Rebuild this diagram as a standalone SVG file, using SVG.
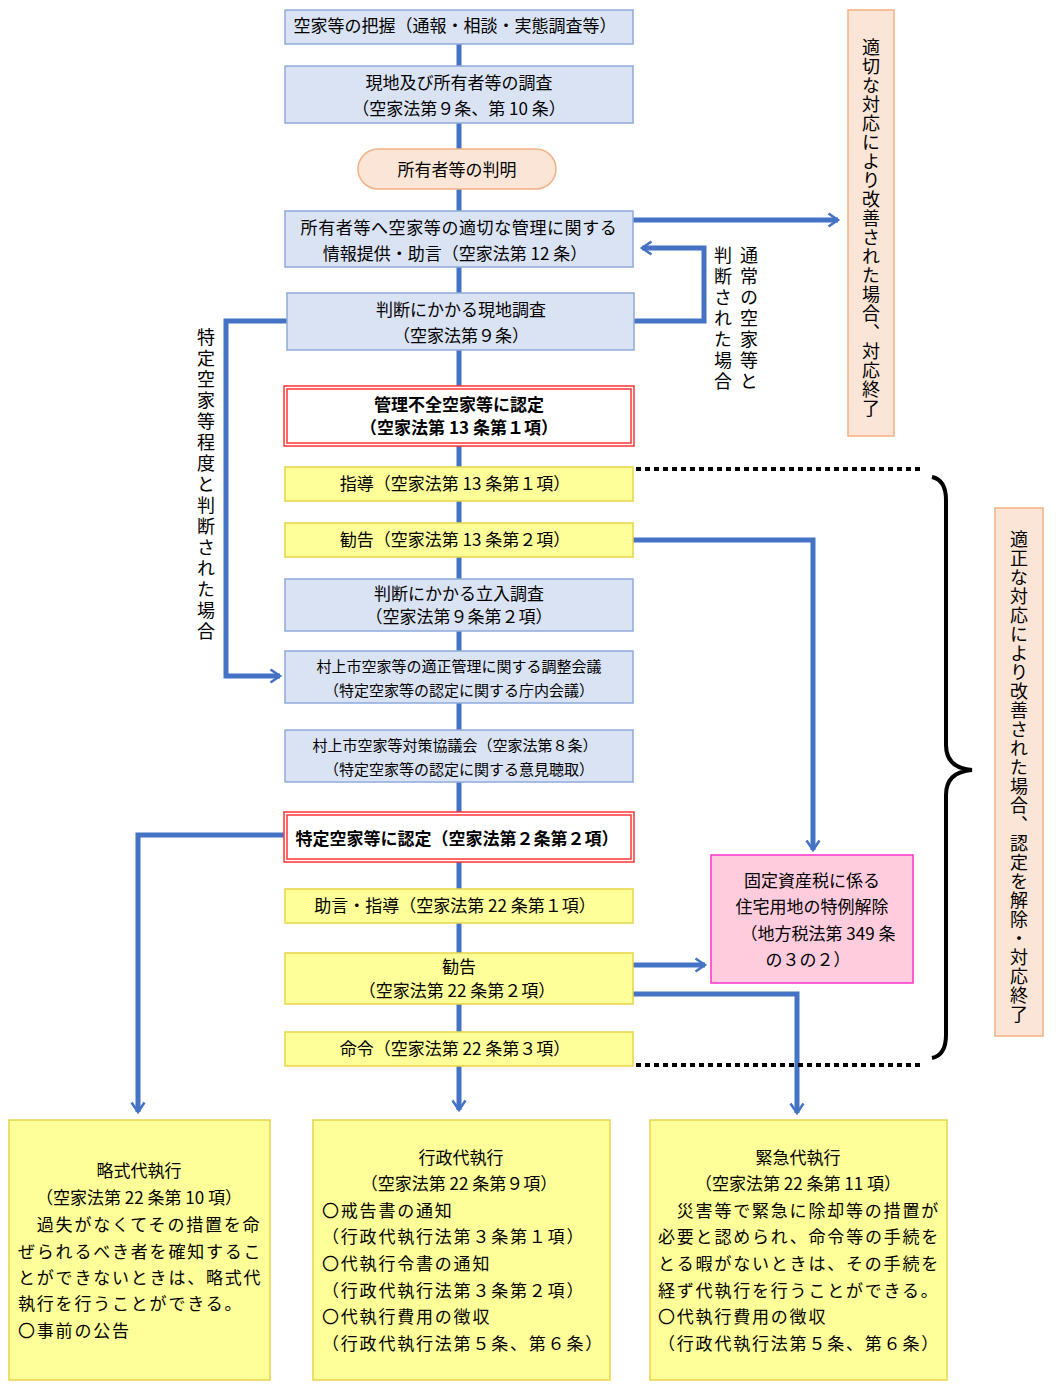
<svg xmlns="http://www.w3.org/2000/svg" width="1060" height="1392" viewBox="0 0 1060 1392">
<style>
text{font-family:"Noto Sans CJK JP","Noto Sans CJK SC",sans-serif;font-size:17px;fill:#000;text-anchor:middle}
.b{fill:#dae3f3;stroke:#8eaadb;stroke-width:1.5}
.y{fill:#ffff99;stroke:#e8d44a;stroke-width:1.5}
.r{fill:#fff;stroke:#ff3333;stroke-width:1.5}
.o{fill:#fbe5d6;stroke:#f4b183;stroke-width:1.5}
.c{fill:none;stroke:#4472c4;stroke-width:5}
.bold{font-weight:bold}
.v{writing-mode:vertical-rl;text-anchor:start;font-size:18px;letter-spacing:1px}
.l{text-anchor:start;letter-spacing:1.8px}
</style>
<defs>
<marker id="a" viewBox="0 0 10 10" refX="9" refY="5" markerWidth="5" markerHeight="5" orient="auto" markerUnits="userSpaceOnUse" overflow="visible">
<polyline points="-10,-8 9,5 -10,18" fill="none" stroke="#4472c4" stroke-width="5"/>
</marker>
</defs>
<g id="connectors">
<line class="c" x1="459" y1="44" x2="459" y2="1066"/>
<path class="c" d="M459 1066 V1110" marker-end="url(#a)"/>
<path class="c" d="M633 220 H838" marker-end="url(#a)"/>
<path class="c" d="M634 321 H704 V248 H642" marker-end="url(#a)"/>
<path class="c" d="M287 321 H226 V676 H280" marker-end="url(#a)"/>
<path class="c" d="M633 540 H813 V850" marker-end="url(#a)"/>
<path class="c" d="M633 965 H705" marker-end="url(#a)"/>
<path class="c" d="M633 994 H797 V1113" marker-end="url(#a)"/>
<path class="c" d="M285 835 H138 V1112" marker-end="url(#a)"/>
<line x1="636" y1="469" x2="920" y2="469" stroke="#000" stroke-width="4" stroke-dasharray="5,4"/>
<line x1="636" y1="1065" x2="920" y2="1065" stroke="#000" stroke-width="4" stroke-dasharray="5,4"/>
<path d="M932 477 Q946 480 946 500 V745 Q946 768 972 770 Q946 772 946 795 V1035 Q946 1055 932 1058" fill="none" stroke="#000" stroke-width="4"/>
</g>
<g id="n1"><rect class="b" x="285" y="10" width="348" height="34"/><text x="455" y="32">空家等の把握（通報・相談・実態調査等）</text></g>
<g id="n2"><rect class="b" x="285" y="66" width="348" height="57"/><text x="459" y="89">現地及び所有者等の調査</text><text x="459" y="115">（空家法第９条、第 10 条）</text></g>
<g id="n3"><rect class="o" x="358" y="149" width="198" height="40" rx="20" stroke-width="3"/><text x="457" y="176">所有者等の判明</text></g>
<g id="n4"><rect class="b" x="285" y="211" width="348" height="56"/><text x="459" y="234" style="letter-spacing:0.6px">所有者等へ空家等の適切な管理に関する</text><text x="455" y="260">情報提供・助言（空家法第 12 条）</text></g>
<g id="n5"><rect class="b" x="287" y="293" width="347" height="57"/><text x="461" y="316">判断にかかる現地調査</text><text x="461" y="342">（空家法第９条）</text></g>
<g id="n6"><rect class="r" x="284" y="386" width="350" height="60"/><rect class="r" x="287" y="389" width="344" height="54"/><text class="bold" x="459" y="411">管理不全空家等に認定</text><text class="bold" x="459" y="434">（空家法第 13 条第１項）</text></g>
<g id="n7"><rect class="y" x="285" y="467" width="348" height="34"/><text x="455" y="490">指導（空家法第 13 条第１項）</text></g>
<g id="n8"><rect class="y" x="285" y="523" width="348" height="34"/><text x="455" y="546">勧告（空家法第 13 条第２項）</text></g>
<g id="n9"><rect class="b" x="285" y="579" width="348" height="52"/><text x="459" y="600">判断にかかる立入調査</text><text x="459" y="623">（空家法第９条第２項）</text></g>
<g id="n10"><rect class="b" x="285" y="651" width="348" height="52"/><text x="459" y="672" style="font-size:15px">村上市空家等の適正管理に関する調整会議</text><text x="459" y="696" style="font-size:15px">（特定空家等の認定に関する庁内会議）</text></g>
<g id="n11"><rect class="b" x="285" y="730" width="348" height="52"/><text x="455" y="751" style="font-size:15px">村上市空家等対策協議会（空家法第８条）</text><text x="459" y="775" style="font-size:15px">（特定空家等の認定に関する意見聴取）</text></g>
<g id="n12"><rect class="r" x="284" y="812" width="350" height="50"/><rect class="r" x="287" y="815" width="344" height="44"/><text class="bold" x="457" y="845">特定空家等に認定（空家法第２条第２項）</text></g>
<g id="n13"><rect class="y" x="285" y="889" width="348" height="34"/><text x="455" y="912">助言・指導（空家法第 22 条第１項）</text></g>
<g id="n14"><rect class="y" x="285" y="953" width="348" height="51"/><text x="459" y="973">勧告</text><text x="457" y="997">（空家法第 22 条第２項）</text></g>
<g id="n15"><rect class="y" x="285" y="1032" width="348" height="34"/><text x="455" y="1055">命令（空家法第 22 条第３項）</text></g>
<g id="n16"><rect x="711" y="855" width="202" height="128" fill="#ffccdd" stroke="#ff33cc" stroke-width="1.5"/><text x="812" y="887">固定資産税に係る</text><text x="812" y="913">住宅用地の特例解除</text><text x="818" y="940">（地方税法第 349 条</text><text x="808" y="966">の３の２）</text></g>
<g id="n17"><rect class="y" x="9" y="1120" width="261" height="260"/><text x="139" y="1177">略式代執行</text><text x="139" y="1204">（空家法第 22 条第 10 項）</text><text class="l" x="18" y="1231">　過失がなくてその措置を命</text><text class="l" x="18" y="1258">ぜられるべき者を確知するこ</text><text class="l" x="18" y="1284">とができないときは、略式代</text><text class="l" x="18" y="1310">執行を行うことができる。</text><text class="l" x="18" y="1337">〇事前の公告</text></g>
<g id="n18"><rect class="y" x="313" y="1120" width="297" height="260"/><text x="461" y="1164">行政代執行</text><text x="459" y="1190">（空家法第 22 条第９項）</text><text class="l" x="322" y="1217">〇戒告書の通知</text><text class="l" x="322" y="1243">（行政代執行法第３条第１項）</text><text class="l" x="322" y="1270">〇代執行令書の通知</text><text class="l" x="322" y="1297">（行政代執行法第３条第２項）</text><text class="l" x="322" y="1323">〇代執行費用の徴収</text><text class="l" x="322" y="1350">（行政代執行法第５条、第６条）</text></g>
<g id="n19"><rect class="y" x="650" y="1120" width="297" height="260"/><text x="798" y="1164">緊急代執行</text><text x="798" y="1190">（空家法第 22 条第 11 項）</text><text class="l" x="658" y="1217">　災害等で緊急に除却等の措置が</text><text class="l" x="658" y="1243">必要と認められ、命令等の手続を</text><text class="l" x="658" y="1270">とる暇がないときは、その手続を</text><text class="l" x="658" y="1297">経ず代執行を行うことができる。</text><text class="l" x="658" y="1323">〇代執行費用の徴収</text><text class="l" x="658" y="1350">（行政代執行法第５条、第６条）</text></g>
<g id="t1"><rect class="o" x="848" y="10" width="46" height="426"/><text class="v" x="871" y="38">適切な対応により改善された場合、対応終了</text></g>
<g id="t2"><rect class="o" x="995" y="508" width="48" height="528"/><text class="v" x="1019" y="530">適正な対応により改善された場合、認定を解除・対応終了</text></g>
<g id="t3"><text class="v" x="749" y="246" style="letter-spacing:3px">通常の空家等と</text><text class="v" x="723" y="246" style="letter-spacing:3px">判断された場合</text></g>
<g id="t4"><text class="v" x="206" y="328" style="letter-spacing:3px">特定空家等程度と判断された場合</text></g>
</svg>
